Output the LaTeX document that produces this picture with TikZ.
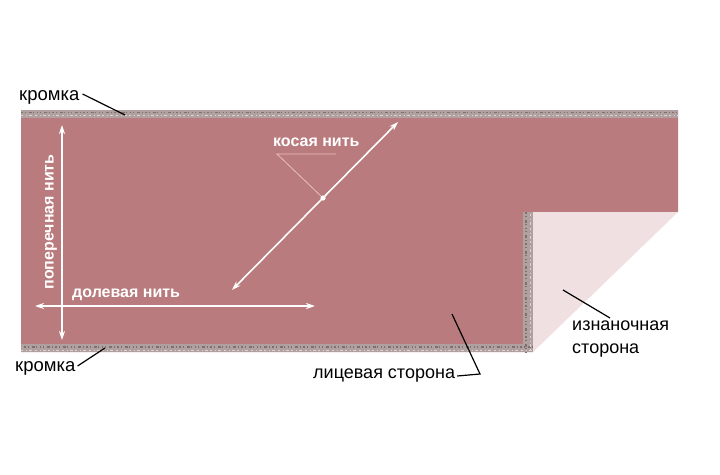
\documentclass[tikz,border=0pt]{standalone}
\usepackage{fontspec}
\setmainfont{Liberation Sans}
\usetikzlibrary{arrows.meta}
\definecolor{fabric}{HTML}{B97B7D}
\definecolor{backside}{HTML}{F0E0E1}
\definecolor{selv}{HTML}{B0A09F}
\definecolor{selvdark}{HTML}{7E706D}
\definecolor{selvlight}{HTML}{DDD3D2}
\definecolor{pointerpink}{HTML}{EBC0C0}
\tikzset{
  blacklabel/.style={font=\fontsize{18.5}{20}\selectfont, text=black, inner sep=0pt},
  whitelabel/.style={font=\bfseries\fontsize{16}{18}\selectfont, text=white, inner sep=0pt},
  pointer/.style={draw=black, line width=1.2pt},
  pinkpointer/.style={draw=pointerpink, line width=0.8pt},
  grain/.style={draw=white, line width=1.6pt, {Stealth[length=9pt,width=6pt]}-{Stealth[length=9pt,width=6pt]}},
  selvstrip/.style={fill=selv, draw=none},
  speckdark/.style={selvdark, line width=1.2pt, dash pattern=on 1.5pt off 2pt on 1pt off 3pt on 3pt off 1.5pt on 1pt off 2.5pt},
  specklight/.style={selvlight, line width=1pt, dash pattern=on 2pt off 3pt on 1pt off 2pt on 3pt off 2.5pt},
}
\begin{document}
\begin{tikzpicture}[x=1pt,y=-1pt]
\useasboundingbox (0,0) rectangle (720,474);
\fill[white] (0,0) rectangle (720,474);
% fabric
\fill[fabric] (21,110) -- (678,110) -- (678,212) -- (533,212) -- (533,352) -- (21,352) -- cycle;
% back side (folded corner)
\fill[backside] (533,212) -- (678,212) -- (533,352) -- cycle;
% selvage strips
\fill[selvstrip] (21,110) rectangle (678,118);
\fill[selvstrip] (21,344) rectangle (533,352);
\fill[selvstrip] (523,212) rectangle (533,352);
\draw[speckdark] (21,112.5) -- (678,112.5);
\draw[specklight] (21,115.5) -- (678,115.5);
\draw[speckdark] (24,347) -- (533,347);
\draw[specklight] (21,350) -- (533,350);
\draw[speckdark] (526,212) -- (526,352);
\draw[specklight] (530,214) -- (530,352);

% grain arrows
\coordinate (vtop) at (62,125);
\coordinate (vbot) at (62,340);
\coordinate (hleft) at (35,306);
\coordinate (hright) at (315,306);
\coordinate (dlow) at (232,290);
\coordinate (dhigh) at (398,122);
\draw[grain] (vtop) -- (vbot);
\draw[grain] (hleft) -- (hright);
\draw[grain] (dlow) -- (dhigh);

% grain labels
\node[whitelabel, rotate=90] (cross) at (51,222) {поперечная нить};
\node[whitelabel, anchor=west] (lengthwise) at (72,295) {долевая нить};
\node[whitelabel, anchor=west] (bias) at (273,142) {косая нить};
\coordinate (biasul) at (277,154);
\coordinate (biasur) at (336,154);
\coordinate (biasdot) at (323,198);
\draw[pinkpointer] (biasur) -- (biasul) -- (biasdot);
\fill[white] (biasdot) circle (2.6pt);

% black labels
\node[blacklabel, anchor=west] (selvtop) at (19,97) {кромка};
\coordinate (selvtopend) at (125,115);
\draw[pointer] (selvtop.east) ++(3pt,3pt) coordinate (selvtopstart) -- (selvtopend);

\node[blacklabel, anchor=west] (selvbot) at (15,368) {кромка};
\coordinate (selvbotend) at (105,348);
\draw[pointer] (selvbot.east) ++(2pt,2pt) coordinate (selvbotstart) -- (selvbotend);

\node[blacklabel, anchor=west, font=\fontsize{18}{20}\selectfont] (face) at (313,376) {лицевая сторона};
\coordinate (facebend) at (480,374);
\coordinate (faceend) at (452,314);
\draw[pointer] (face.east) ++(2pt,0) -- (facebend) -- (faceend);

\node[blacklabel, anchor=north west, align=left, font=\fontsize{18}{23}\selectfont] (back) at (572,321) {изнаночная\\сторона};
\coordinate (backend) at (563,290);
\coordinate (backstart) at (610,318);
\draw[pointer] (backstart) -- (backend);
\end{tikzpicture}
\end{document}
